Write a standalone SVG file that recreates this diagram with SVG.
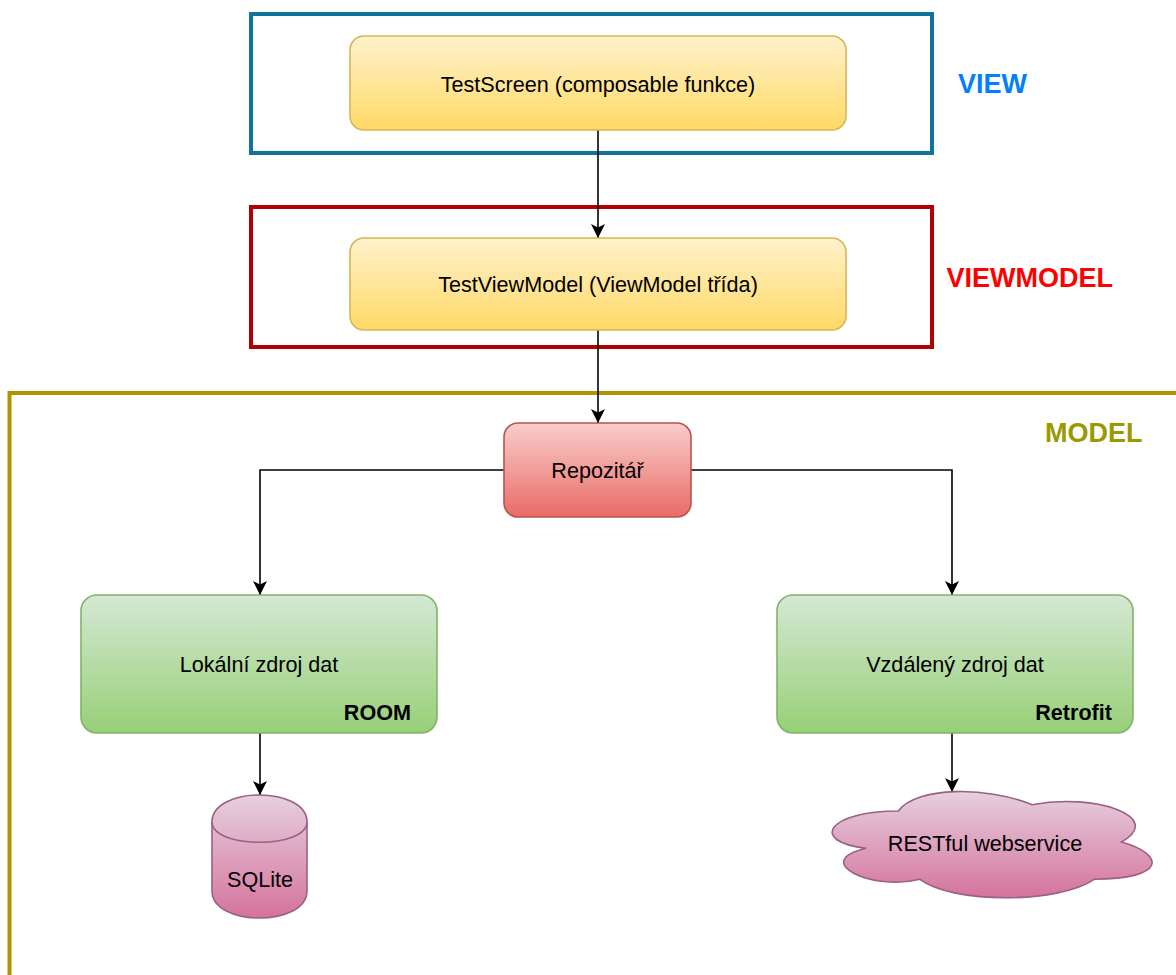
<svg xmlns="http://www.w3.org/2000/svg" width="1176" height="975" viewBox="0 0 1176 975">
<style>
.t{font-family:"Liberation Sans",Arial,Helvetica,sans-serif;font-size:21.6px;fill:#000;text-anchor:middle}
.b{font-family:"Liberation Sans",Arial,Helvetica,sans-serif;font-size:21.6px;font-weight:bold;fill:#000;text-anchor:end}
.lbl{font-family:"Liberation Sans",Arial,Helvetica,sans-serif;font-size:27px;font-weight:bold}
.frame{fill:none;stroke-width:4}
.conn{fill:none;stroke:#000;stroke-width:1.6}
</style>
<defs>
<linearGradient id="gy" x1="0" y1="0" x2="0" y2="1"><stop offset="0" stop-color="#fff2cc"/><stop offset="1" stop-color="#ffd966"/></linearGradient>
<linearGradient id="gr" x1="0" y1="0" x2="0" y2="1"><stop offset="0" stop-color="#f8cecc"/><stop offset="1" stop-color="#ea6b66"/></linearGradient>
<linearGradient id="gg" x1="0" y1="0" x2="0" y2="1"><stop offset="0" stop-color="#d5e8d4"/><stop offset="1" stop-color="#97d077"/></linearGradient>
<linearGradient id="gp" x1="0" y1="0" x2="0" y2="1"><stop offset="0" stop-color="#e6d0de"/><stop offset="1" stop-color="#d5739d"/></linearGradient>
<marker id="arr" markerUnits="userSpaceOnUse" markerWidth="15" markerHeight="15" refX="14" refY="7" orient="auto" viewBox="0 0 15 15">
<path d="M14,7 L0,0 L3.5,7 L0,14 Z" fill="#000"/>
</marker>
</defs>

<g id="frame-view">
<rect class="frame" x="251" y="14" width="681" height="139" stroke="#10739e"/>
<text class="lbl" x="958" y="93" fill="#007fff">VIEW</text>
</g>
<g id="frame-viewmodel">
<rect class="frame" x="251" y="207" width="681" height="140" stroke="#b20000"/>
<text class="lbl" x="946.5" y="287" fill="#ff0000">VIEWMODEL</text>
</g>
<g id="frame-model">
<rect class="frame" x="9.5" y="393" width="1200" height="700" stroke="#b09500"/>
<text class="lbl" x="1045" y="442" fill="#999900">MODEL</text>
</g>

<g id="connectors">
<line class="conn" x1="598" y1="130" x2="598" y2="238" marker-end="url(#arr)"/>
<line class="conn" x1="598" y1="330" x2="598" y2="423" marker-end="url(#arr)"/>
<polyline class="conn" points="504,470 260,470 260,595" marker-end="url(#arr)"/>
<polyline class="conn" points="691,470 952,470 952,595" marker-end="url(#arr)"/>
<line class="conn" x1="260" y1="733" x2="260" y2="795" marker-end="url(#arr)"/>
<line class="conn" x1="952" y1="733" x2="952" y2="792" marker-end="url(#arr)"/>
</g>

<g id="testscreen">
<rect x="350" y="36" width="496" height="94" rx="14" fill="url(#gy)" stroke="#d6b656" stroke-width="1.6"/>
<text class="t" x="598" y="91.5">TestScreen (composable funkce)</text>
</g>
<g id="testviewmodel">
<rect x="350" y="238" width="496" height="92" rx="14" fill="url(#gy)" stroke="#d6b656" stroke-width="1.6"/>
<text class="t" x="598" y="292">TestViewModel (ViewModel třída)</text>
</g>
<g id="repozitar">
<rect x="504" y="423" width="187" height="94" rx="14" fill="url(#gr)" stroke="#b85450" stroke-width="1.6"/>
<text class="t" x="597.5" y="478">Repozitář</text>
</g>
<g id="lokalni">
<rect x="81" y="595" width="356" height="138" rx="16" fill="url(#gg)" stroke="#82b366" stroke-width="1.6"/>
<text class="t" x="259" y="672">Lokální zdroj dat</text>
<text class="b" x="411" y="720">ROOM</text>
</g>
<g id="vzdaleny">
<rect x="777" y="595" width="356" height="138" rx="16" fill="url(#gg)" stroke="#82b366" stroke-width="1.6"/>
<text class="t" x="955" y="672">Vzdálený zdroj dat</text>
<text class="b" x="1112" y="720">Retrofit</text>
</g>
<g id="sqlite">
<path d="M212,822 C212,786 307,786 307,822 L307,891 C307,927 212,927 212,891 Z" fill="url(#gp)" stroke="#996185" stroke-width="1.6"/>
<path d="M212,822 C212,849 307,849 307,822" fill="none" stroke="#996185" stroke-width="1.6"/>
<text class="t" x="260" y="887">SQLite</text>
</g>
<g id="restful">
<path d="M898.25,811 C826.85,811 809,842 866.12,848.2 C809,861.84 873.26,891.6 919.67,879.2 C951.8,904 1058.9,904 1094.6,879.2 C1166,879.2 1166,854.4 1121.4,842 C1166,817.2 1094.6,792.4 1032.1,804.8 C987.5,786.2 916.1,786.2 898.25,811 Z" fill="url(#gp)" stroke="#996185" stroke-width="1.6"/>
<text class="t" x="985" y="851">RESTful webservice</text>
</g>
</svg>
